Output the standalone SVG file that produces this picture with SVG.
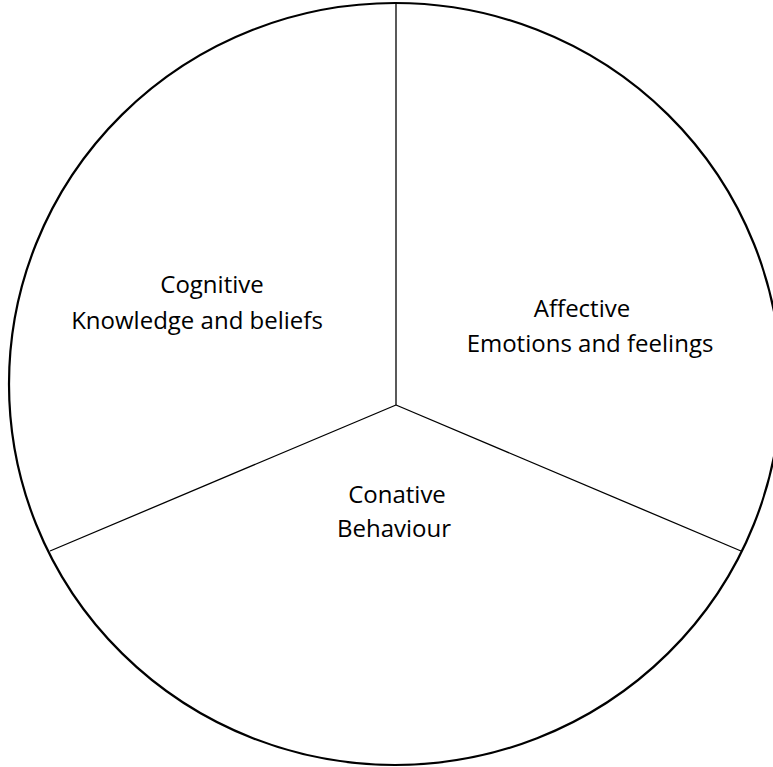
<svg xmlns="http://www.w3.org/2000/svg" width="773" height="767" viewBox="0 0 773 767">
<style>
.outline{fill:#ffffff;stroke:#000000;stroke-width:2.2}
.div{stroke:#000000;stroke-width:1.3;fill:none}
.lbl{font-family:"Open Sans","Liberation Sans",sans-serif;font-size:24px;fill:#000000;text-anchor:middle}
</style>
<rect width="773" height="767" fill="#ffffff"/>
<g id="circle"><ellipse class="outline" cx="395" cy="384" rx="386" ry="381"/></g>
<g id="connectors">
<line class="div" x1="396" y1="405" x2="396" y2="3"/>
<line class="div" x1="396" y1="405" x2="50" y2="551"/>
<line class="div" x1="396" y1="405" x2="741" y2="551"/>
</g>
<g id="cognitive">
<text class="lbl" x="212" y="293">Cognitive</text>
<text class="lbl" x="197" y="329">Knowledge and beliefs</text>
</g>
<g id="affective">
<text class="lbl" x="582" y="317">Affective</text>
<text class="lbl" x="590" y="352">Emotions and feelings</text>
</g>
<g id="conative">
<text class="lbl" x="397" y="503">Conative</text>
<text class="lbl" x="394" y="537">Behaviour</text>
</g>
</svg>
